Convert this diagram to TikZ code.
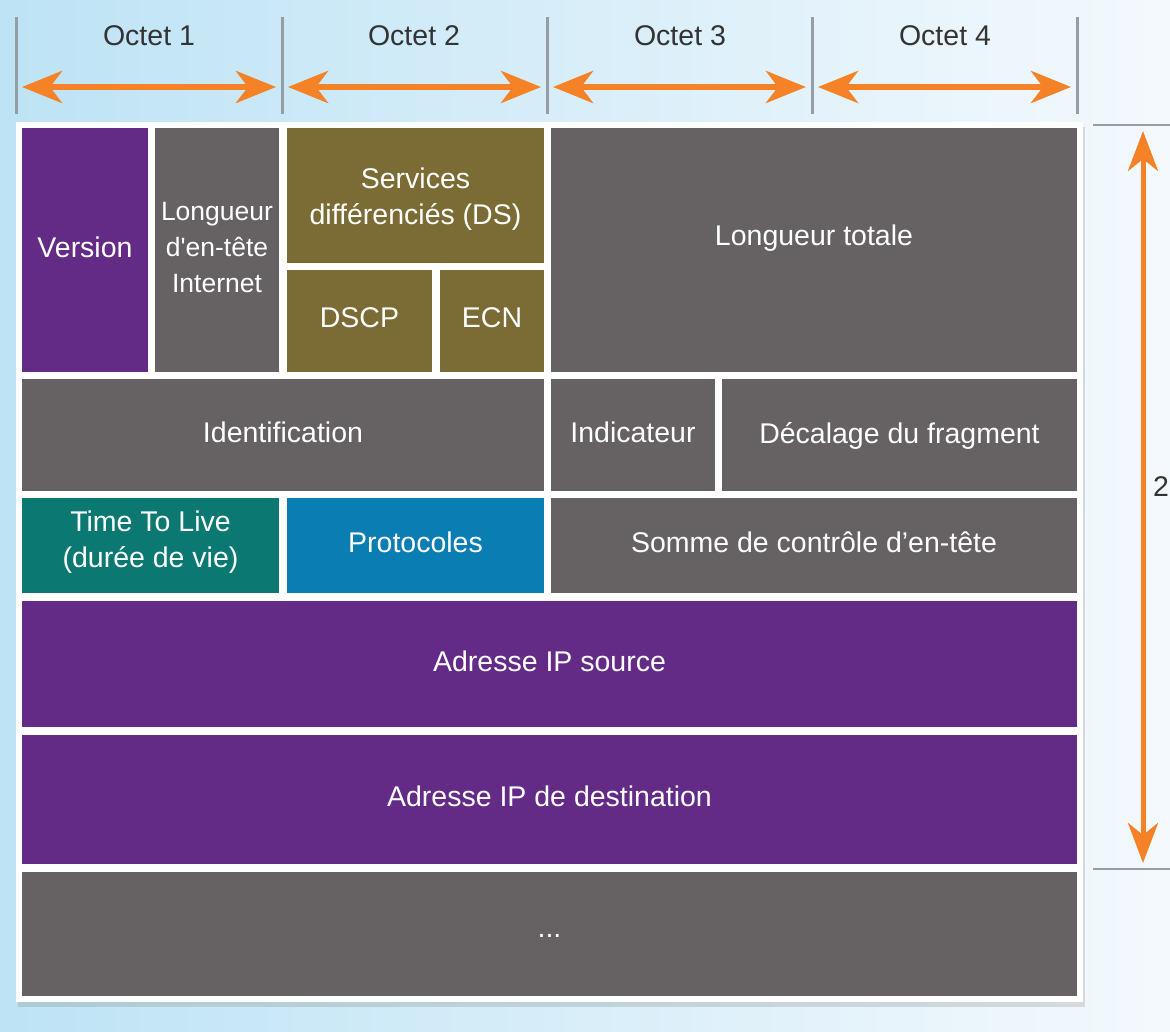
\documentclass[tikz,border=0pt]{standalone}
\usepackage{fontspec}
\newfontfamily\hdrfont{Liberation Sans}
\usetikzlibrary{arrows.meta,fit,shadows}

\definecolor{bgblue}{RGB}{189,227,245}
\definecolor{bgpale}{RGB}{244,249,253}
\definecolor{ipurple}{RGB}{99,43,134}
\definecolor{igray}{RGB}{102,97,98}
\definecolor{iolive}{RGB}{123,107,52}
\definecolor{iteal}{RGB}{11,120,114}
\definecolor{iblue}{RGB}{10,125,178}
\definecolor{iorange}{RGB}{245,130,38}
\definecolor{itick}{RGB}{150,158,165}
\definecolor{itext}{RGB}{51,51,51}

\tikzset{
  cell/.style={inner sep=0pt, outer sep=0pt, draw=white, line width=1.2pt},
  celltext/.style={text=white, align=center, inner sep=0pt, yshift=3pt,
    font=\hdrfont\fontsize{28.5}{36}\selectfont},
  tick/.style={draw=itick, line width=3pt},
  octet/.style={text=itext, font=\hdrfont\fontsize{28.5}{30}\selectfont, inner sep=0pt},
  span/.style={draw=iorange, line width=6.5pt,
    {Stealth[length=40pt,width=32pt,inset=12pt]}-{Stealth[length=40pt,width=32pt,inset=12pt]}},
  vspan/.style={draw=iorange, line width=5pt,
    {Stealth[length=40pt,width=30pt,inset=12pt]}-{Stealth[length=40pt,width=30pt,inset=12pt]}},
}

% [#1] label options, #2 name, (#3,#4) top-left, (#5,#6) bottom-right, #7 colour, #8 text
\newcommand{\field}[8][]{%
  \node[cell, fill=#7, fit={(#3,#4) (#5,#6)}] (#2) {};
  \node[celltext, #1] (#2-label) at (#2.center) {#8};}

\begin{document}
\begin{tikzpicture}[x=1pt,y=-1pt]
  % backdrop
  \shade[left color=bgblue, right color=bgpale] (0,0) rectangle (1170,1032);
  \useasboundingbox (0,0) rectangle (1170,1032);

  % octet scale
  \foreach \x in {16,282,547,812,1077}{
    \draw[tick] (\x,17) -- (\x,114);
  }
  \node[octet] (o1) at (149,36) {Octet 1};
  \node[octet] (o2) at (414,36) {Octet 2};
  \node[octet] (o3) at (680,36) {Octet 3};
  \node[octet] (o4) at (945,36) {Octet 4};
  \foreach \a/\b in {16/282,282/547,547/812,812/1077}{
    \coordinate (sa) at (\a+6,87);
    \coordinate (sb) at (\b-6,87);
    \draw[span] (sa) -- (sb);
  }

  % header frame
  \path[fill=white, drop shadow={opacity=0.25, shadow xshift=2pt, shadow yshift=-5pt}]
    (16,122) rectangle (1083,1002);

  % row 1
  \field{version}{21}{127}{149}{373}{ipurple}{Version}
  \field[yshift=-1pt, font=\hdrfont\fontsize{26.5}{36}\selectfont]
    {ihl}{154}{127}{280}{373}{igray}{Longueur\\d'en-tête\\Internet}
  \field[yshift=-7pt]{ds}{286}{127}{545}{264}{iolive}{Services\\différenciés (DS)}
  \field{dscp}{286}{269}{433}{373}{iolive}{DSCP}
  \field{ecn}{439}{269}{545}{373}{iolive}{ECN}
  \field[yshift=9pt]{total}{550}{127}{1078}{373}{igray}{Longueur totale}
  % row 2
  \field{ident}{21}{378}{545}{492}{igray}{Identification}
  \field{flags}{550}{378}{716}{492}{igray}{Indicateur}
  \field[yshift=-4pt]{frag}{721}{378}{1078}{492}{igray}{Décalage du fragment}
  % row 3
  \field[yshift=0pt]{ttl}{21}{497}{280}{594}{iteal}{Time To Live\\(durée de vie)}
  \field{proto}{286}{497}{545}{594}{iblue}{Protocoles}
  \field{csum}{550}{497}{1078}{594}{igray}{Somme de contrôle d’en-tête}
  % addresses and options
  \field{src}{21}{600}{1078}{728}{ipurple}{Adresse IP source}
  \field{dst}{21}{734}{1078}{865}{ipurple}{Adresse IP de destination}
  \field[yshift=-5pt]{opts}{21}{871}{1078}{997}{igray}{...}

  % header length scale
  \coordinate (ht) at (1093,125);
  \coordinate (hb) at (1093,869);
  \draw[tick, line width=2.5pt] (ht) -- ++(80,0);
  \draw[tick, line width=2.5pt] (hb) -- ++(80,0);
  \coordinate (va) at (1143,131);
  \coordinate (vb) at (1143,863);
  \draw[vspan] (va) -- (vb);
  \node[octet, anchor=west] (len) at (1153,487) {2};
\end{tikzpicture}
\end{document}
